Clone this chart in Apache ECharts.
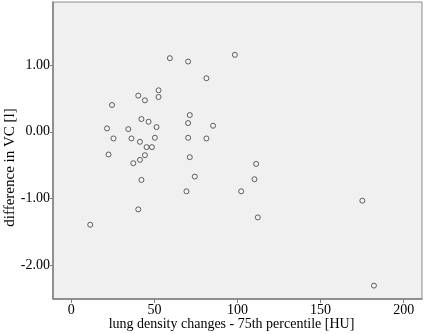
<!DOCTYPE html>
<html lang="en" style="height: 100%">
<head>
  <meta charset="utf-8">
</head>
<body style="height: 100%; margin: 0; background: #fff">
  <div id="container" style="width: 434px; height: 334px"></div>

  <script type="text/javascript" src="https://cdn.jsdelivr.net/npm/echarts@6/dist/echarts.min.js"></script>

  <script type="text/javascript">
    // lung density change (x) vs difference in VC (y)
    var densityChange = [
      59.3, 70.3, 98.4, 81.3, 52.5, 52.5, 40.3, 44.3, 24.5, 71.3,
      70.3, 42.2, 46.5, 51.3, 21.5, 34.3, 85.3, 25.4, 36.2, 41.3,
      50.3, 70.3, 81.3, 45.3, 48.5, 22.4, 37.3, 41.3, 44.3, 71.3,
      111.2, 74.3, 42.2, 110.2, 69.3, 102.2, 175.1, 40.3, 11.4, 112.2,
      182.1
    ];
    var vcDifference = [
      1.10, 1.05, 1.15, 0.80, 0.62, 0.52, 0.54, 0.47, 0.40, 0.25,
      0.13, 0.19, 0.15, 0.07, 0.05, 0.04, 0.09, -0.10, -0.10, -0.15,
      -0.09, -0.09, -0.10, -0.23, -0.23, -0.34, -0.47, -0.42, -0.35, -0.38,
      -0.48, -0.67, -0.72, -0.71, -0.89, -0.89, -1.03, -1.16, -1.39, -1.28,
      -2.30
    ];
    var xTicks = [0, 50, 100, 150, 200];
    var yTicks = [-2, -1, 0, 1];

    var points = densityChange.map(function (x, i) { return [x, vcDifference[i]]; });

    var myChart = echarts.init(document.getElementById('container'), null, { renderer: 'canvas' });
    var font = '"Liberation Serif", "DejaVu Serif", serif';

    var option = {
      animation: false,
      grid: {
        left: 53, top: 2, right: 12, bottom: 35,
        outerBoundsMode: 'none',
        containLabel: false,
        show: true,
        backgroundColor: '#f0f0f0',
        borderColor: '#8c8c8c',
        borderWidth: 1
      },
      xAxis: {
        type: 'value',
        min: -11,
        max: 211,
        name: 'lung density changes - 75th percentile [HU]',
        nameLocation: 'middle',
        nameGap: 18,
        nameMoveOverlap: false,
        nameTextStyle: { fontFamily: font, fontSize: 14, color: '#000', padding: [0, 12, 0, 0] },
        axisLine: { show: true, onZero: false, lineStyle: { color: '#808080', width: 1.5 } },
        axisTick: { show: true, length: 4, customValues: xTicks, lineStyle: { color: '#808080' } },
        axisLabel: { customValues: xTicks, fontFamily: font, fontSize: 14, color: '#000', margin: 4 },
        splitLine: { show: false }
      },
      yAxis: {
        type: 'value',
        min: -2.5,
        max: 1.94,
        name: 'difference in VC [l]',
        nameLocation: 'middle',
        nameGap: 35,
        nameMoveOverlap: false,
        nameTextStyle: { fontFamily: font, fontSize: 15, color: '#000', padding: [0, 34, 0, 0] },
        axisLine: { show: true, onZero: false, lineStyle: { color: '#808080', width: 1.5 } },
        axisTick: { show: true, length: 3, customValues: yTicks, lineStyle: { color: '#808080' } },
        axisLabel: {
          customValues: yTicks,
          fontFamily: font, fontSize: 14, color: '#000', margin: 3,
          formatter: function (v) { return v.toFixed(2); }
        },
        splitLine: { show: false }
      },
      series: [{
        type: 'scatter',
        data: points,
        symbol: 'circle',
        symbolSize: 5,
        itemStyle: { color: '#f4f4f4', borderColor: '#3a3a3a', borderWidth: 1 }
      }]
    };

    myChart.setOption(option);
    window.addEventListener('resize', myChart.resize);
  </script>
</body>
</html>
